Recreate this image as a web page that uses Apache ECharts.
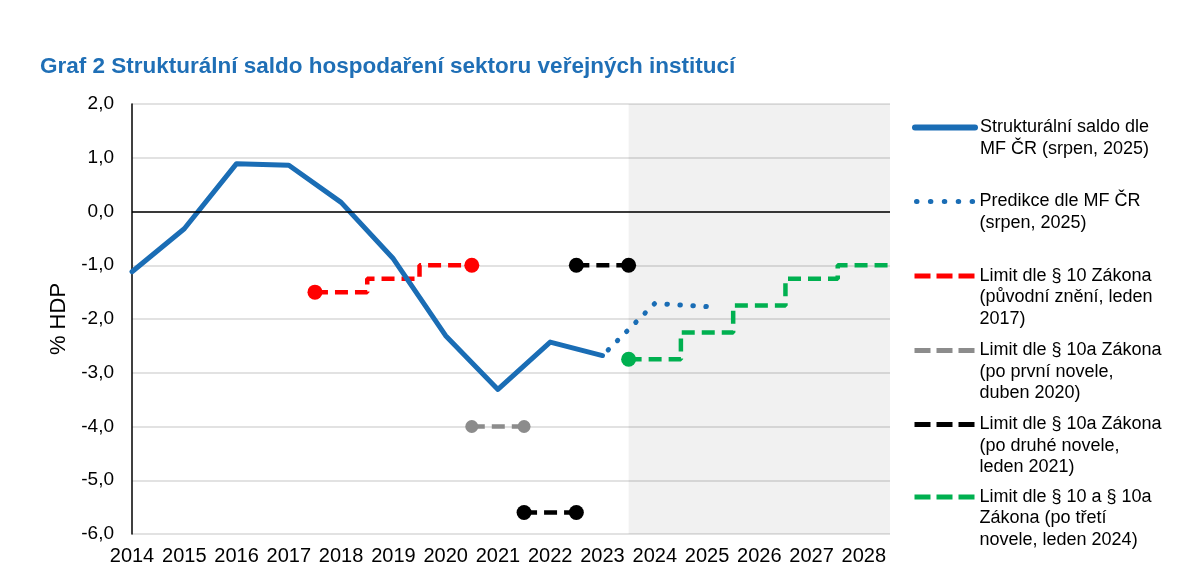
<!DOCTYPE html>
<html>
<head>
<meta charset="utf-8">
<script src="https://cdn.jsdelivr.net/npm/echarts@6/dist/echarts.min.js"></script>
<style>
html,body{margin:0;padding:0;background:#fff;}
#chart{width:1200px;height:583px;}
</style>
</head>
<body>
<div id="chart"></div>
<script>
// ---- data ----
const xTickYears = [2014,2015,2016,2017,2018,2019,2020,2021,2022,2023,2024,2025,2026,2027,2028];
const saldoYears = [2014,2015,2016,2017,2018,2019,2020,2021,2022,2023];
const saldoValues = [-1.12,-0.32,0.89,0.86,0.17,-0.88,-2.31,-3.31,-2.43,-2.68];
const predYears = [2023,2024,2025];
const predValues = [-2.68,-1.71,-1.77];
const limit10X = [2017.5,2018.5,2019.5,2020.5];
const limit10Y = [-1.5,-1.25,-1.0,-1.0];
const limit10aFirstX = [2020.5,2021.5];
const limit10aFirstY = [-4.0,-4.0];
const limit10aSecondUpperX = [2022.5,2023.5];
const limit10aSecondUpperY = [-1.0,-1.0];
const limit10aSecondLowerX = [2021.5,2022.5];
const limit10aSecondLowerY = [-5.6,-5.6];
const limitThirdX = [2023.5,2024.5,2025.5,2026.5,2027.5,2028.5];
const limitThirdY = [-2.75,-2.25,-1.75,-1.25,-1.0,-1.0];
const forecastFrom = 2023.5, forecastTo = 2028.5;

const names = {
  s: 'Strukturální saldo dle\nMF ČR (srpen, 2025)',
  p: 'Predikce dle MF ČR\n(srpen, 2025)',
  l1: 'Limit dle § 10 Zákona\n(původní znění, leden\n2017)',
  l2: 'Limit dle § 10a Zákona\n(po první novele,\nduben 2020)',
  l3: 'Limit dle § 10a Zákona\n(po druhé novele,\nleden 2021)',
  l4: 'Limit dle § 10 a § 10a\nZákona (po třetí\nnovele, leden 2024)'
};

const zip = (xs, ys) => xs.map((x, i) => [x, ys[i]]);
const FONT = '"Liberation Sans", Arial, sans-serif';
const BLUE = '#1a6db5';

function dotSizer(count, size, showLast) {
  return function (val, params) {
    if (params.dataIndex === 0) return size;
    if (showLast && params.dataIndex === count - 1) return size;
    return 0;
  };
}

function limitSeries(name, xs, ys, color, size, showLast) {
  return {
    name: name, type: 'line', step: 'end',
    data: zip(xs, ys),
    symbol: 'circle', showSymbol: true,
    symbolSize: dotSizer(xs.length, size, showLast),
    itemStyle: {color: color},
    lineStyle: {color: color, width: 4.5, type: [13, 7]},
    emphasis: {disabled: true}, silent: true, z: 3
  };
}

const chart = echarts.init(document.getElementById('chart'), null, {renderer: 'canvas'});

function legendAt(name, top, nLines, lineType, offset, width) {
  return {
    data: [name], left: 912, top: top, orient: 'vertical', padding: 0,
    itemWidth: 60, itemHeight: 14, selectedMode: false,
    itemStyle: {opacity: 0},
    lineStyle: {width: width, type: lineType, dashOffset: offset},
    textStyle: {fontFamily: FONT, fontSize: 18, lineHeight: 21.5, color: '#000'},
    formatter: function (n) { return '\n'.repeat(nLines - 1) + n; }
  };
}

const option = {
  animation: false,
  backgroundColor: '#fff',
  title: {
    text: 'Graf 2 Strukturální saldo hospodaření sektoru veřejných institucí',
    left: 40, top: 55, padding: 0,
    textStyle: {fontFamily: FONT, fontSize: 22.5, fontWeight: 'bold', color: '#1f6fb6'}
  },
  legend: [
    legendAt(names.s, 95.25, 2, 'solid', 0, 6),
    legendAt(names.p, 169.25, 2, [0.5, 13.4], -2, 5),
    legendAt(names.l1, 222.25, 3, [16, 6], 0, 5),
    legendAt(names.l2, 296.75, 3, [16, 6], 0, 5),
    legendAt(names.l3, 370.75, 3, [16, 6], 0, 5),
    legendAt(names.l4, 443.25, 3, [16, 6], 0, 5)
  ],
  grid: {left: 132, right: 310, top: 104, bottom: 49, containLabel: false},
  xAxis: {
    type: 'value', min: xTickYears[0], max: forecastTo, interval: 1,
    axisLine: {show: false}, axisTick: {show: false}, splitLine: {show: false},
    axisLabel: {
      fontFamily: FONT, fontSize: 20, color: '#000', margin: 12,
      formatter: v => (xTickYears.indexOf(v) >= 0 ? String(v) : '')
    }
  },
  yAxis: {
    type: 'value', min: -6, max: 2, interval: 1,
    name: '% HDP', nameLocation: 'middle', nameGap: 59, nameRotate: 90,
    nameTextStyle: {fontFamily: FONT, fontSize: 22, color: '#000'},
    axisLine: {show: true, lineStyle: {color: '#000', width: 1.5}},
    axisTick: {show: false},
    splitLine: {show: true, lineStyle: {color: '#d9d9d9', width: 1.5}},
    axisLabel: {
      fontFamily: FONT, fontSize: 19, color: '#000', margin: 18,
      formatter: v => v.toFixed(1).replace('.', ',')
    }
  },
  series: [
    {
      name: names.s, type: 'line', data: zip(saldoYears, saldoValues),
      symbol: 'none', lineStyle: {color: BLUE, width: 5, join: 'round', cap: 'round'},
      itemStyle: {color: BLUE}, silent: true, z: 4,
      markArea: {
        silent: true,
        itemStyle: {color: 'rgba(0,0,0,0.055)'},
        data: [[{xAxis: forecastFrom}, {xAxis: forecastTo}]]
      },
      markLine: {
        silent: true, symbol: 'none', label: {show: false},
        lineStyle: {color: '#000', width: 1.5, type: 'solid'},
        data: [{yAxis: 0}]
      }
    },
    {
      name: names.p, type: 'line', data: zip(predYears, predValues),
      symbol: 'none', lineStyle: {color: BLUE, width: 5, type: [0.5, 12.5], cap: 'round', dashOffset: -8},
      itemStyle: {color: BLUE}, silent: true, z: 4
    },
    limitSeries(names.l1, limit10X, limit10Y, '#ff0000', 15, true),
    limitSeries(names.l2, limit10aFirstX, limit10aFirstY, '#8c8c8c', 13, true),
    limitSeries(names.l3, limit10aSecondUpperX, limit10aSecondUpperY, '#000000', 15, true),
    limitSeries(names.l3, limit10aSecondLowerX, limit10aSecondLowerY, '#000000', 15, true),
    limitSeries(names.l4, limitThirdX, limitThirdY, '#00b050', 15, false)
  ]
};
chart.setOption(option);
</script>
</body>
</html>
